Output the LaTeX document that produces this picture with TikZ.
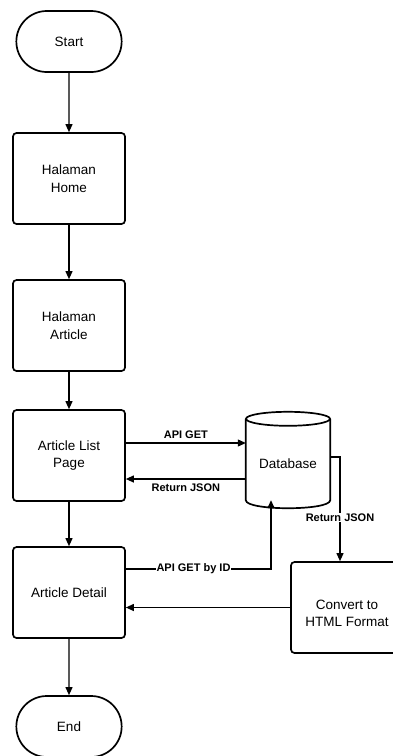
\documentclass[tikz,border=0pt]{standalone}
\usepackage{fontspec}
\setmainfont{Liberation Sans}
\usetikzlibrary{arrows.meta,shapes.misc,calc}
\begin{document}
\begin{tikzpicture}[x=1pt,y=-1pt,
  box/.style={draw,line width=1.7pt,rounded corners=3.5pt,minimum width=112pt,minimum height=91pt,
    align=center,font=\fontsize{13.5}{17.5}\selectfont,fill=white},
  terminal/.style={draw,line width=1.7pt,rounded rectangle,rounded rectangle arc length=180,
    minimum width=112pt,minimum height=61pt,font=\fontsize{13.5}{17.5}\selectfont},
  conn/.style={line width=1.1pt,-{Triangle[length=8pt,width=7pt]}},
  tag/.style={font=\fontsize{11}{13}\selectfont\bfseries,inner sep=1pt},
  ]
\useasboundingbox (0,0) rectangle (392,756);

% main column
\node[terminal] (start) at (69,41.5) {Start};
\node[box] (home) at (69,178.5) {Halaman\\Home};
\node[box] (article) at (69,325.5) {Halaman\\Article};
\node[box] (list) at (69,455.5) {Article List\\Page};
\node[box] (detail) at (69,592.5) {Article Detail};
\node[terminal] (end) at (69,726.5) {End};

% side column
\node[minimum width=84pt,minimum height=81pt,inner sep=0pt,font=\fontsize{13.5}{17.5}\selectfont] (db) at (288,459.5)
  {\raisebox{-4pt}[\height][\depth]{Database}};
\node[box] (convert) at (347,607.5)
  {\raisebox{-7pt}[\height][\depth]{\begin{tabular}{@{}c@{}}Convert to\\HTML Format\end{tabular}}};

% database cylinder
\draw[line width=1.7pt] (db.north west) -- (db.south west)
  .. controls ($(db.south west)+(0,10.7)$) and ($(db.south east)+(0,10.7)$) .. (db.south east)
  -- (db.north east);
\draw[line width=1.7pt] (db.north) ellipse [x radius=42,y radius=7];

% flow
\draw[conn] (start) -- (home);
\draw[conn] (home) -- (article);
\draw[conn] (article) -- (list);
\draw[conn] (list) -- (detail);
\draw[conn] (detail) -- (end);

\draw[conn] ([yshift=12.5pt]list.east) -- ([yshift=12.5pt]list.east -| db.west)
  node[tag,midway,above=3pt] {API GET};
\draw[conn] ([yshift=-19.5pt]db.west) -- ([yshift=-19.5pt]db.west -| list.east)
  node[tag,midway,below=3pt] {Return JSON};
\draw[conn] ([yshift=2.5pt]db.east) -| ([xshift=-7pt]convert.north)
  node[tag,pos=0.79,fill=white] {Return JSON};
\draw[conn] ([yshift=23.5pt]detail.east) -| ([xshift=-17pt]db.south)
  node[tag,pos=0.233,fill=white] {API GET by ID};
\draw[conn] (convert.west) -- (convert.west -| detail.east);
\end{tikzpicture}
\end{document}
